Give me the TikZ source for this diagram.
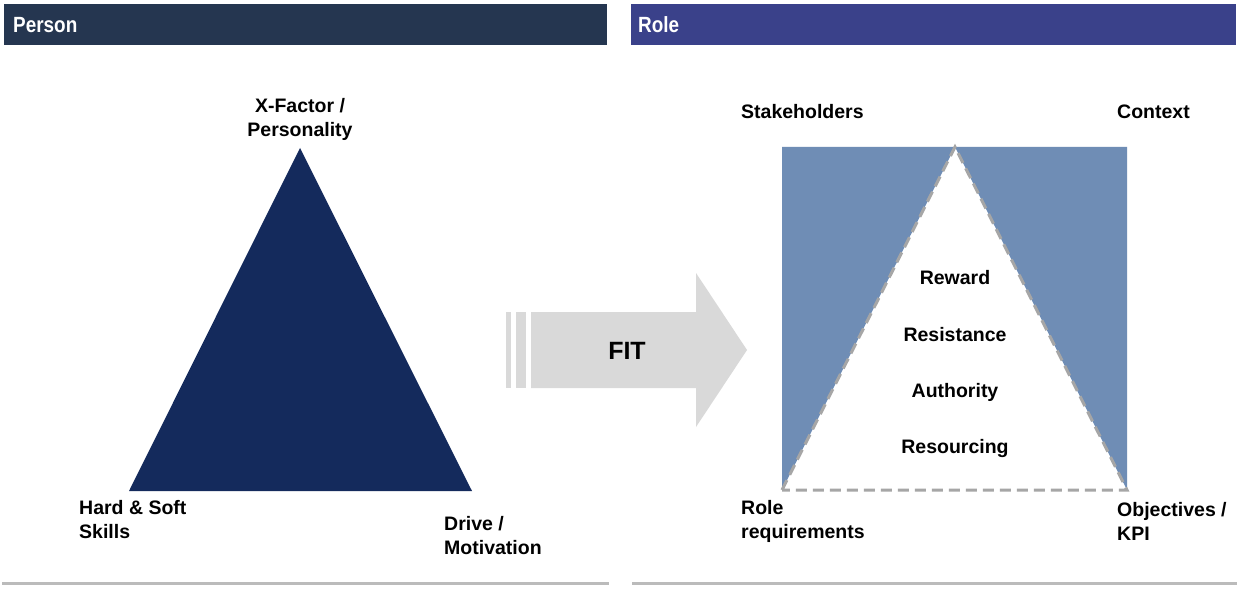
\documentclass[tikz,border=0pt]{standalone}
\usepackage{fontspec}
\usepackage{graphicx}
\setmainfont{Liberation Sans}
\definecolor{personbar}{HTML}{253650}
\definecolor{rolebar}{HTML}{3A418A}
\definecolor{navy}{HTML}{142A5C}
\definecolor{steel}{HTML}{6F8DB5}
\definecolor{arrowgray}{HTML}{D9D9D9}
\definecolor{rulegray}{HTML}{BBBBBB}
\definecolor{dashgray}{HTML}{A6A6A6}
\newcommand{\hdrtext}[1]{\scalebox{0.86}[1]{#1}}
\begin{document}
\begin{tikzpicture}[x=1pt,y=-1pt,
  lbl/.style={font=\bfseries\fontsize{19.5}{24}\selectfont,inner sep=0pt,align=left,text=black},
  hdr/.style={font=\bfseries\fontsize{22}{26}\selectfont,inner sep=0pt,text=white,anchor=base west},
  fit/.style={font=\bfseries\fontsize{25}{30}\selectfont,inner sep=0pt,anchor=base},
  rulebar/.style={draw=rulegray,line width=3pt},
  dashedge/.style={draw=dashgray,line width=3pt,dash pattern=on 11pt off 6pt}]
\useasboundingbox (0,0) rectangle (1240,591);
\fill[white] (0,0) rectangle (1240,591);
% header bars
\fill[personbar] (4,4) rectangle (607,45);
\fill[rolebar] (631,4) rectangle (1236,45);
\node[hdr] (hperson) at (13,33) {\hdrtext{Person}};
\node[hdr] (hrole) at (638,33) {\hdrtext{Role}};
% bottom rules
\draw[rulebar] (2,583) -- (609,583);
\draw[rulebar] (632,583) -- (1237,583);
% left triangle
\coordinate (la) at (300,148);
\coordinate (lb) at (129,491);
\coordinate (lc) at (472,491);
\fill[navy] (la) -- (lb) -- (lc) -- cycle;
\node[lbl,anchor=base,align=center] (xf) at (300,137) {X-Factor /\\Personality};
\node[lbl,anchor=base west] (hs) at (79,538) {Hard \& Soft\\Skills};
\node[lbl,anchor=base west] (dm) at (444,554) {Drive /\\Motivation};
% FIT arrow
\fill[arrowgray] (506,312) rectangle (511,388);
\fill[arrowgray] (516,312) rectangle (526,388);
\fill[arrowgray] (531,312) -- (696,312) -- (696,273) -- (747,350) -- (696,427) -- (696,388) -- (531,388) -- cycle;
\node[fit] (fit) at (627,359) {FIT};
% right figure
\coordinate (rtl) at (782,147);
\coordinate (rtr) at (1127,147);
\coordinate (rbl) at (782,490);
\coordinate (rbr) at (1127,490);
\coordinate (rap) at (955,147);
\fill[steel] (rtl) -- (rap) -- (rbl) -- cycle;
\fill[steel] (rap) -- (rtr) -- (rbr) -- cycle;
\draw[dashedge] (rbl) -- (rap) -- (rbr) -- cycle;
\node[lbl,anchor=base] (rw) at (955,284) {Reward};
\node[lbl,anchor=base] (rs) at (955,341) {Resistance};
\node[lbl,anchor=base] (au) at (955,397) {Authority};
\node[lbl,anchor=base] (rc) at (955,453) {Resourcing};
\node[lbl,anchor=base west] (sh) at (741,119) {Stakeholders};
\node[lbl,anchor=base west] (cx) at (1117,119) {Context};
\node[lbl,anchor=base west] (rr) at (741,538) {Role\\requirements};
\node[lbl,anchor=base west] (ok) at (1117,540) {Objectives /\\KPI};
\end{tikzpicture}
\end{document}
